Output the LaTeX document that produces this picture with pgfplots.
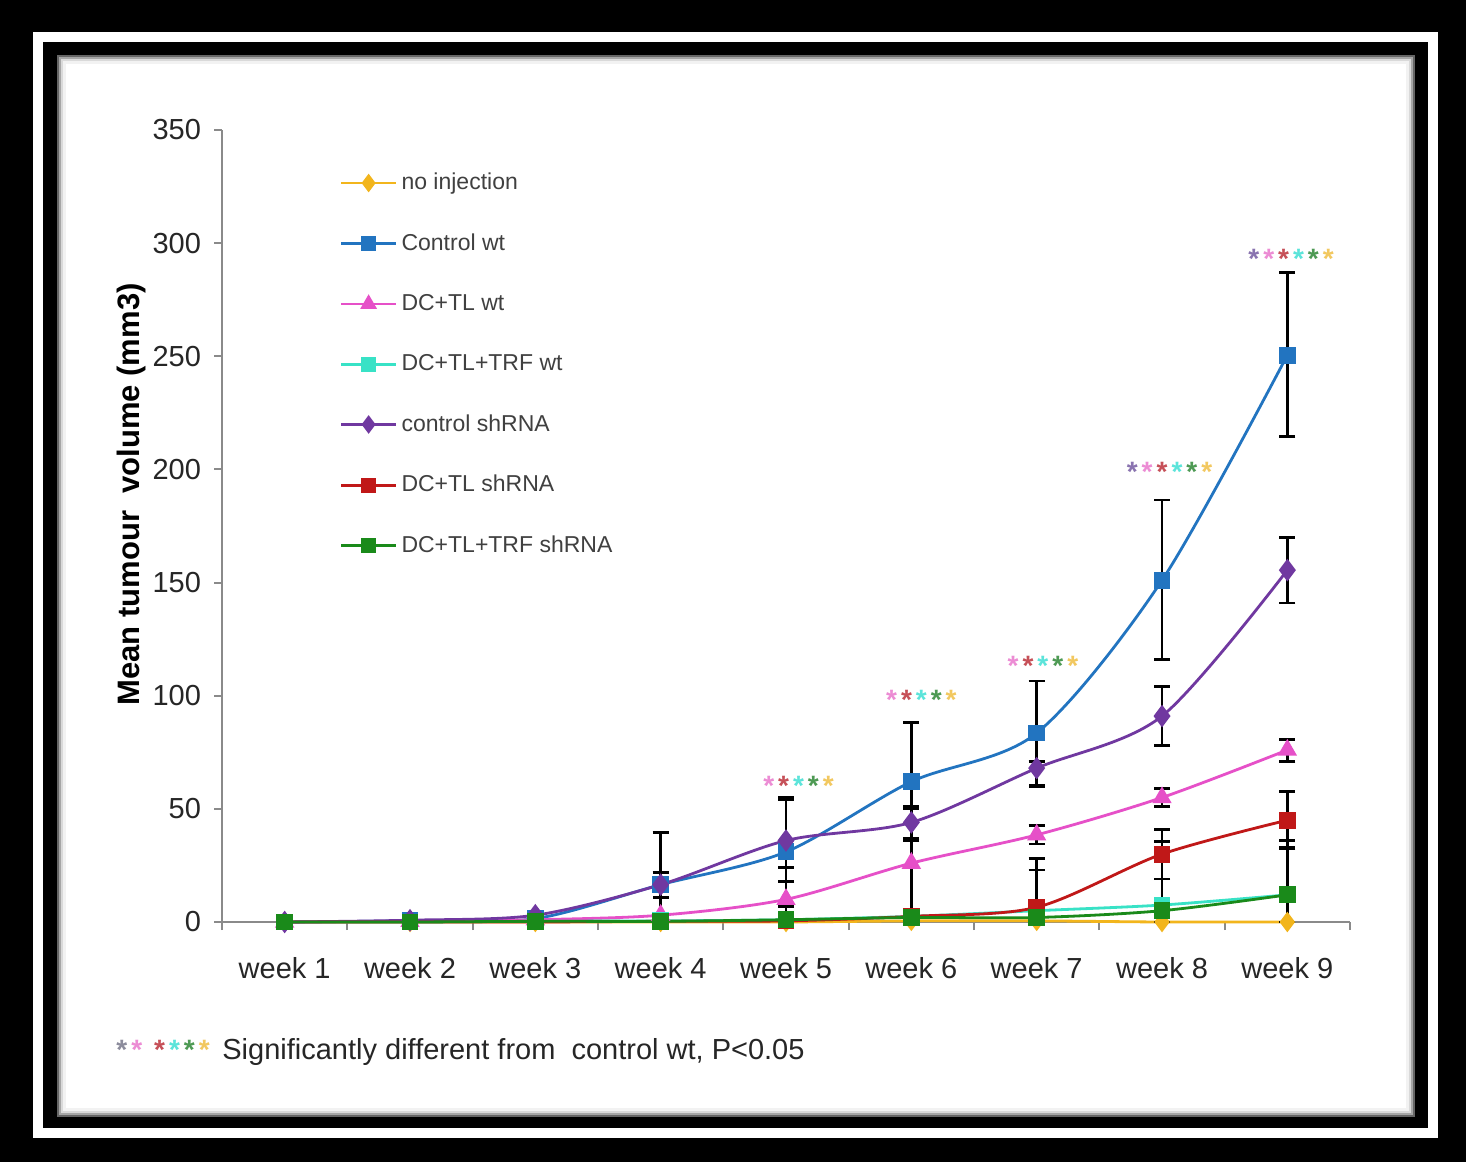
\documentclass[border=0pt]{standalone}
\usepackage{pgfplots}
\usepackage{pgfplotstable}
\pgfplotsset{compat=1.18}
\usepackage{fontspec}
\setmainfont{Liberation Sans}
\setsansfont{Liberation Sans}

\definecolor{cGold}{HTML}{F2B51C}
\definecolor{cBlue}{HTML}{2274C0}
\definecolor{cPink}{HTML}{E650C8}
\definecolor{cCyan}{HTML}{38E2C6}
\definecolor{cPurple}{HTML}{7038A0}
\definecolor{cRed}{HTML}{C01818}
\definecolor{cGreen}{HTML}{1A8A1A}
\definecolor{axgray}{HTML}{8A8A8A}
\definecolor{sPurple}{HTML}{8A74B0}
\definecolor{sPink}{HTML}{EC8CD4}
\definecolor{sRed}{HTML}{C65058}
\definecolor{sCyan}{HTML}{5CE4DA}
\definecolor{sGreen}{HTML}{4E9A54}
\definecolor{sYellow}{HTML}{F2C860}
\definecolor{sGray}{HTML}{8C8C9C}

% series: x y
\pgfplotstableread{
x y
1 0
2 0
3 0
4 0
5 0
6 0.5
7 0.5
8 0
9 0
}\noinj
\pgfplotstableread{
x y
1 0
2 0.5
3 1.5
4 16.5
5 31
6 62
7 83.5
8 151
9 250.5
}\ctrlwt
\pgfplotstableread{
x y
1 0
2 0.3
3 1
4 3
5 10
6 26
7 38.5
8 55
9 76
}\dctlwt
\pgfplotstableread{
x y
1 0
2 0
3 0.3
4 0.5
5 1
6 2.5
7 5
8 7.5
9 12
}\dctltrfwt
\pgfplotstableread{
x y
1 0
2 0.8
3 3
4 16.5
5 36
6 44
7 68
8 91
9 155.5
}\ctrlsh
\pgfplotstableread{
x y
1 0
2 0
3 0
4 0.3
5 0.5
6 2.5
7 6.5
8 30
9 45
}\dctlsh
\pgfplotstableread{
x y
1 0
2 0
3 0.3
4 0.3
5 1
6 2
7 2
8 5
9 12
}\dctltrfsh

% error bars: x y up down
\pgfplotstableread{
x y up dn
4 16.5 23 16.5
5 31 24 24
6 62 26 26
7 83.5 23 23
8 151 35.5 35
9 250.5 36.5 36
}\ctrlwtE
\pgfplotstableread{
x y up dn
4 16.5 5.5 5.5
5 36 18 18
6 44 7 7
7 68 3 8
8 91 13 13
9 155.5 14.5 14.5
}\ctrlshE
\pgfplotstableread{
x y up dn
5 10 14 10
6 26 24 24
7 38.5 4 4
8 55 4 4
9 76 4.5 5
}\dctlwtE
\pgfplotstableread{
x y up dn
7 5 18 5
8 7.5 28 7.5
9 12 21 12
}\dctltrfwtE
\pgfplotstableread{
x y up dn
7 6.5 21.5 6.5
8 30 11 11
9 45 12.5 12.5
}\dctlshE
\pgfplotstableread{
x y up dn
8 5 36 5
9 12 24 12
}\dctltrfshE

\newcommand{\st}[1]{\textcolor{#1}{\bfseries *}}
\newcommand{\gp}{\hspace{2pt}}

\begin{document}
\begin{tikzpicture}
% frame (1 px = 0.5 pt)
\fill[black] (0,0) rectangle (733pt,581pt);
\draw[white, line width=5pt] (19pt,562.5pt) rectangle (716.5pt,14.5pt);
\fill[black!60] (28.5pt,553.5pt) rectangle (707.5pt,22.5pt);
\fill[black!35] (29.5pt,552.5pt) rectangle (706.5pt,23.5pt);
\fill[black!15] (30.5pt,551.5pt) rectangle (705.5pt,24.5pt);
\fill[black!5] (31.5pt,550.5pt) rectangle (704.5pt,25.5pt);
\fill[white] (33pt,549pt) rectangle (703pt,27pt);

\begin{axis}[
  at={(111pt,120pt)}, anchor=south west,
  scale only axis, width=564pt, height=396pt,
  xmin=0.5, xmax=9.5, ymin=0, ymax=350,
  clip=false,
  axis x line*=bottom, axis y line*=left,
  axis line style={draw=axgray, line width=1.1pt, -},
  xtick={1,...,9},
  xticklabels={week 1,week 2,week 3,week 4,week 5,week 6,week 7,week 8,week 9},
  minor xtick={0.5,1.5,...,9.5},
  ytick={0,50,...,350},
  /pgf/number format/assume math mode=true,
  tick align=outside,
  major tick length=4pt, minor tick length=4pt,
  major x tick style={draw=none},
  tick style={draw=axgray, line width=1pt},
  minor tick style={draw=axgray, line width=1pt},
  ticklabel style={font=\fontsize{14.5}{16}\selectfont, text=black!85},
  xticklabel style={yshift=-10pt},
  yticklabel style={xshift=-3pt},
  ylabel={\bfseries Mean tumour\ \ volume (mm3)},
  ylabel style={font=\fontsize{15.5}{17}\selectfont, at={(axis description cs:-0.08,0.54)}, anchor=center, rotate=0},
  legend style={at={(axis description cs:0.104,0.951)}, anchor=north west, draw=none, fill=none,
    font=\fontsize{11.5}{13}\selectfont, text=black!75, row sep=16.5pt, inner sep=0pt},
  legend cell align=left,
  legend image code/.code={\draw[mark repeat=2,mark phase=2] plot coordinates {(0pt,0pt) (13.75pt,0pt) (27.5pt,0pt)};},
  every axis plot/.append style={line width=1.4pt},
  error bars/error bar style={black, line width=1.3pt, solid},
  error bars/error mark options={rotate=90, black, mark size=4pt, line width=1.4pt},
]
% legend images
\addlegendimage{cGold, mark=diamond*, mark size=3.5pt, mark options={fill=cGold}}
\addlegendentry{no injection}
\addlegendimage{cBlue, mark=square*, mark size=3pt, mark options={fill=cBlue}}
\addlegendentry{Control wt}
\addlegendimage{cPink, mark=triangle*, mark size=3.5pt, mark options={fill=cPink}}
\addlegendentry{DC+TL wt}
\addlegendimage{cCyan, mark=square*, mark size=3pt, mark options={fill=cCyan}}
\addlegendentry{DC+TL+TRF wt}
\addlegendimage{cPurple, mark=diamond*, mark size=3.5pt, mark options={fill=cPurple}}
\addlegendentry{control shRNA}
\addlegendimage{cRed, mark=square*, mark size=3pt, mark options={fill=cRed}}
\addlegendentry{DC+TL shRNA}
\addlegendimage{cGreen, mark=square*, mark size=3pt, mark options={fill=cGreen}}
\addlegendentry{DC+TL+TRF shRNA}

% lines
\addplot[cGold, smooth, no marks, forget plot] table[x=x,y=y]{\noinj};
\addplot[cBlue, smooth, no marks, forget plot] table[x=x,y=y]{\ctrlwt};
\addplot[cPink, smooth, no marks, forget plot] table[x=x,y=y]{\dctlwt};
\addplot[cCyan, smooth, no marks, forget plot] table[x=x,y=y]{\dctltrfwt};
\addplot[cPurple, smooth, no marks, forget plot] table[x=x,y=y]{\ctrlsh};
\addplot[cRed, smooth, no marks, forget plot] table[x=x,y=y]{\dctlsh};
\addplot[cGreen, smooth, no marks, forget plot] table[x=x,y=y]{\dctltrfsh};

% error bars
\addplot[draw=none, no marks, forget plot, error bars/.cd, y dir=both, y explicit]
  table[x=x, y=y, y error plus=up, y error minus=dn]{\ctrlwtE};
\addplot[draw=none, no marks, forget plot, error bars/.cd, y dir=both, y explicit]
  table[x=x, y=y, y error plus=up, y error minus=dn]{\ctrlshE};
\addplot[draw=none, no marks, forget plot, error bars/.cd, y dir=both, y explicit]
  table[x=x, y=y, y error plus=up, y error minus=dn]{\dctlwtE};
\addplot[draw=none, no marks, forget plot, error bars/.cd, y dir=both, y explicit]
  table[x=x, y=y, y error plus=up, y error minus=dn]{\dctltrfwtE};
\addplot[draw=none, no marks, forget plot, error bars/.cd, y dir=both, y explicit]
  table[x=x, y=y, y error plus=up, y error minus=dn]{\dctlshE};
\addplot[draw=none, no marks, forget plot, error bars/.cd, y dir=both, y explicit]
  table[x=x, y=y, y error plus=up, y error minus=dn]{\dctltrfshE};

% markers
\addplot[only marks, mark=diamond*, mark size=4pt, draw=cGold, fill=cGold, forget plot] table[x=x,y=y]{\noinj};
\addplot[only marks, mark=square*, mark size=3.5pt, draw=cBlue, fill=cBlue, forget plot] table[x=x,y=y]{\ctrlwt};
\addplot[only marks, mark=triangle*, mark size=4.2pt, draw=cPink, fill=cPink, forget plot] table[x=x,y=y]{\dctlwt};
\addplot[only marks, mark=square*, mark size=3.5pt, draw=cCyan, fill=cCyan, forget plot] table[x=x,y=y]{\dctltrfwt};
\addplot[only marks, mark=diamond*, mark size=4.5pt, draw=cPurple, fill=cPurple, forget plot] table[x=x,y=y]{\ctrlsh};
\addplot[only marks, mark=square*, mark size=3.5pt, draw=cRed, fill=cRed, forget plot] table[x=x,y=y]{\dctlsh};
\addplot[only marks, mark=square*, mark size=3.5pt, draw=cGreen, fill=cGreen, forget plot] table[x=x,y=y]{\dctltrfsh};

% significance stars
\node[font=\fontsize{14}{14}\selectfont, inner sep=0pt] at (axis cs:5.1,60) {\st{sPink}\gp\st{sRed}\gp\st{sCyan}\gp\st{sGreen}\gp\st{sYellow}};
\node[font=\fontsize{14}{14}\selectfont, inner sep=0pt] at (axis cs:6.08,98) {\st{sPink}\gp\st{sRed}\gp\st{sCyan}\gp\st{sGreen}\gp\st{sYellow}};
\node[font=\fontsize{14}{14}\selectfont, inner sep=0pt] at (axis cs:7.05,113) {\st{sPink}\gp\st{sRed}\gp\st{sCyan}\gp\st{sGreen}\gp\st{sYellow}};
\node[font=\fontsize{14}{14}\selectfont, inner sep=0pt] at (axis cs:8.06,199) {\st{sPurple}\gp\st{sPink}\gp\st{sRed}\gp\st{sCyan}\gp\st{sGreen}\gp\st{sYellow}};
\node[font=\fontsize{14}{14}\selectfont, inner sep=0pt] at (axis cs:9.03,293) {\st{sPurple}\gp\st{sPink}\gp\st{sRed}\gp\st{sCyan}\gp\st{sGreen}\gp\st{sYellow}};
\end{axis}

% footnote
\node[font=\fontsize{14}{14}\selectfont, inner sep=0pt, anchor=west] at (58pt,56pt) {\st{sGray}\gp\st{sPink}\hspace{6pt}\st{sRed}\gp\st{sCyan}\gp\st{sGreen}\gp\st{sYellow}};
\node[font=\fontsize{14.5}{16}\selectfont, text=black!85, inner sep=0pt, anchor=west] at (111pt,55pt) {Significantly different from\ \ control wt, P<0.05};
\end{tikzpicture}
\end{document}
